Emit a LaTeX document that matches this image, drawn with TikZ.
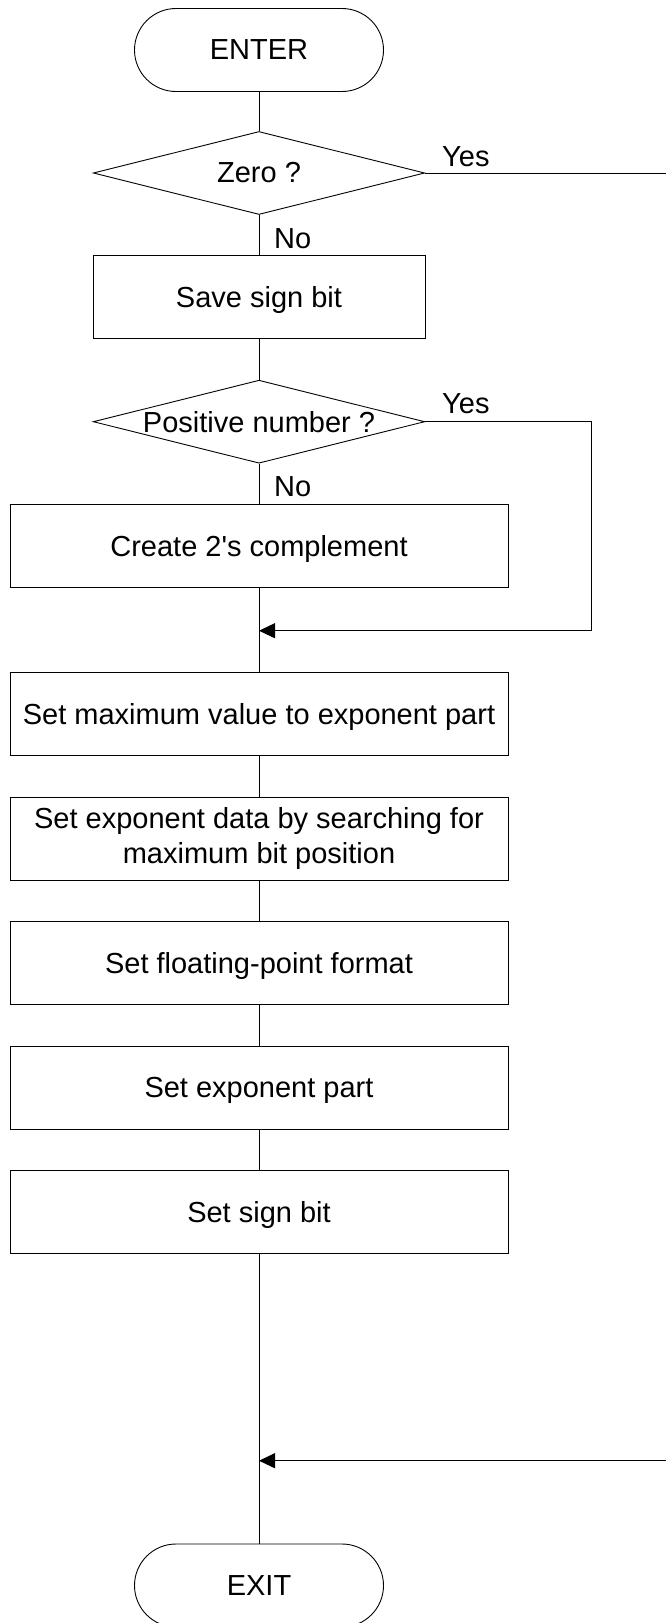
\documentclass[tikz,border=0pt]{standalone}
\usepackage{fontspec}
\setmainfont{Liberation Sans}
\usetikzlibrary{arrows.meta,shapes.geometric}
\begin{document}
\begin{tikzpicture}[x=1pt,y=-1pt,
  every node/.style={font=\fontsize{29}{35}\selectfont},
  line/.style={draw=black, line width=0.9pt},
  term/.style={draw, line width=0.9pt, rectangle, rounded corners=41.5pt, minimum width=249pt, minimum height=83pt, inner sep=0pt, text depth=0pt},
  boxbase/.style={draw, line width=0.9pt, rectangle, minimum width=498pt, minimum height=83pt, inner sep=0pt},
  procbox/.style={boxbase, text depth=0pt},
  decision/.style={draw, line width=0.9pt, diamond, minimum width=331.5pt, minimum height=83pt, inner sep=0pt},
  lbl/.style={anchor=base west, inner sep=0pt},
  tip/.style={-{Triangle[length=16pt,width=15pt]}}
]
\useasboundingbox (0,0) rectangle (666,1623);
\clip (0,0) rectangle (666,1623);

\node[term] (enter) at (259,50) {ENTER};
\node[decision] (zero) at (259,173) {\makebox[0pt]{Zero ?}};
\node[procbox, minimum width=332pt] (save) at (259,297) {Save sign bit};
\node[decision] (pos) at (259,421.7) {\makebox[0pt]{Positive number ?}};
\node[procbox] (comp) at (259,546) {Create 2\textquotesingle s complement};
\coordinate (m1) at (259,630.7);
\node[procbox] (b1) at (259,714.3) {Set maximum value to exponent part};
\node[boxbase, align=center] (b2) at (259,838.5) {Set exponent data by searching for\\maximum bit position};
\node[procbox] (b3) at (259,962.9) {Set floating-point format};
\node[procbox] (b4) at (259,1087.5) {Set exponent part};
\node[procbox] (b5) at (259,1212.3) {Set sign bit};
\coordinate (m2) at (259,1460.7);
\node[term] (exit) at (259,1585.5) {EXIT};

\draw[line] (enter) -- (zero);
\draw[line] (zero) -- (save);
\draw[line] (save) -- (pos);
\draw[line] (pos) -- (comp);
\draw[line] (comp) -- (b1);
\draw[line] (b1) -- (b2);
\draw[line] (b2) -- (b3);
\draw[line] (b3) -- (b4);
\draw[line] (b4) -- (b5);
\draw[line] (b5) -- (exit);

\coordinate (r1) at (668,173);
\coordinate (r2) at (668,1460.7);
\draw[line, tip] (zero.east) -- (r1) -- (r2) -- (m2);

\coordinate (p1) at (591,421.7);
\coordinate (p2) at (591,630.7);
\draw[line, tip] (pos.east) -- (p1) -- (p2) -- (m1);

\node[lbl] (y1) at (442,166) {Yes};
\node[lbl] (n1) at (274,248) {No};
\node[lbl] (y2) at (442,413.3) {Yes};
\node[lbl] (n2) at (274,496.7) {No};
\end{tikzpicture}
\end{document}
